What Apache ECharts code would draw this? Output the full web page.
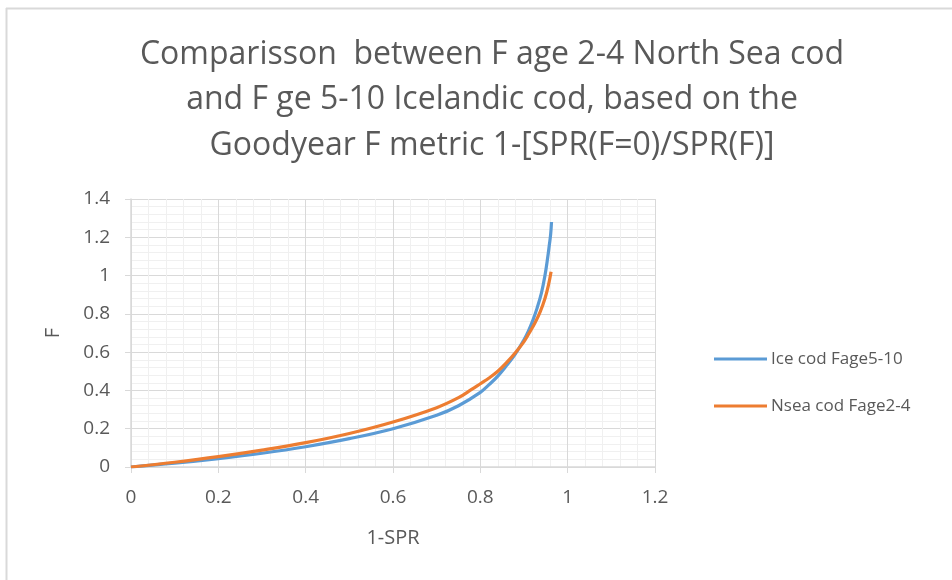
<!DOCTYPE html>
<html>
<head>
<meta charset="utf-8">
<script src="https://cdn.jsdelivr.net/npm/echarts@6/dist/echarts.min.js"></script>
<style>
html,body{margin:0;padding:0;background:#fff;}
#chart{width:952px;height:580px;}
</style>
</head>
<body>
<div id="chart"></div>
<script>
// Data
const titleLines = [
  'Comparisson  between F age 2-4 North Sea cod',
  'and F ge 5-10 Icelandic cod, based on the',
  'Goodyear F metric 1-[SPR(F=0)/SPR(F)]'
];
const xAxisName = '1-SPR';
const yAxisName = 'F';
const seriesNames = ['Ice cod Fage5-10', 'Nsea cod Fage2-4'];

// Ice cod Fage5-10 : [1-SPR, F]
const iceX = [0, 0.1, 0.2, 0.3, 0.4, 0.5, 0.6, 0.7, 0.75, 0.8, 0.82, 0.84, 0.86, 0.88, 0.9, 0.91, 0.92, 0.93, 0.94, 0.948, 0.954, 0.958, 0.961, 0.963];
const iceF = [0, 0.02, 0.044, 0.072, 0.106, 0.148, 0.2, 0.27, 0.32, 0.39, 0.43, 0.475, 0.53, 0.59, 0.665, 0.71, 0.765, 0.83, 0.91, 1.0, 1.09, 1.16, 1.215, 1.28];

// Nsea cod Fage2-4 : [1-SPR, F]
const nseaX = [0, 0.1, 0.2, 0.3, 0.4, 0.5, 0.6, 0.7, 0.75, 0.78, 0.8, 0.82, 0.84, 0.86, 0.883, 0.9, 0.912, 0.925, 0.937, 0.948, 0.956, 0.962];
const nseaF = [0, 0.025, 0.054, 0.088, 0.127, 0.175, 0.235, 0.31, 0.362, 0.405, 0.435, 0.465, 0.5, 0.545, 0.605, 0.655, 0.7, 0.752, 0.81, 0.88, 0.95, 1.02];

const zip = (a, b) => a.map((v, i) => [v, b[i]]);

const chart = echarts.init(document.getElementById('chart'), null, {renderer: 'canvas'});
const font = '"Open Sans", "Noto Sans", sans-serif';
const txt = '#595959';

chart.setOption({
  backgroundColor: '#ffffff',
  animation: false,
  title: {
    text: titleLines.join('\n'),
    left: 487,
    top: 27,
    textAlign: 'center',
    textStyle: {
      fontFamily: font,
      fontSize: 32,
      fontWeight: 'normal',
      color: txt,
      lineHeight: 45.5
    }
  },
  legend: {
    orient: 'vertical',
    left: 709,
    top: 344,
    itemWidth: 53,
    itemHeight: 3,
    itemGap: 27,
    data: seriesNames.map(n => ({name: n, icon: 'rect'})),
    textStyle: {fontFamily: font, fontSize: 17, color: txt, lineHeight: 20, padding: [0, 0, 0, -1]}
  },
  grid: {left: 131, right: 297, top: 199, bottom: 113, containLabel: false},
  xAxis: {
    type: 'value',
    min: 0, max: 1.2, interval: 0.2,
    name: xAxisName,
    nameLocation: 'middle',
    nameGap: 61,
    nameTextStyle: {fontFamily: font, fontSize: 20, color: txt},
    axisLine: {show: true, lineStyle: {color: '#d9d9d9', width: 1.5}},
    axisTick: {show: true, length: 6, lineStyle: {color: '#d9d9d9'}},
    axisLabel: {fontFamily: font, fontSize: 19, color: txt, margin: 21,
      formatter: v => String(Math.round(v * 10) / 10)},
    splitLine: {show: true, lineStyle: {color: '#d9d9d9', width: 1}},
    minorTick: {show: false, splitNumber: 5},
    minorSplitLine: {show: true, lineStyle: {color: '#f0f0f0', width: 1}}
  },
  yAxis: {
    type: 'value',
    min: 0, max: 1.4, interval: 0.2,
    name: yAxisName,
    nameLocation: 'middle',
    nameGap: 68,
    nameRotate: 90,
    nameTextStyle: {fontFamily: font, fontSize: 20, color: txt},
    axisLine: {show: true, lineStyle: {color: '#d9d9d9', width: 1.5}},
    axisTick: {show: true, length: 6, lineStyle: {color: '#d9d9d9'}},
    axisLabel: {fontFamily: font, fontSize: 19, color: txt, margin: 21,
      formatter: v => String(Math.round(v * 10) / 10)},
    splitLine: {show: true, lineStyle: {color: '#d9d9d9', width: 1}},
    minorTick: {show: false, splitNumber: 5},
    minorSplitLine: {show: true, lineStyle: {color: '#f0f0f0', width: 1}}
  },
  series: [
    {
      name: seriesNames[0],
      type: 'line',
      data: zip(iceX, iceF),
      smooth: 0.4,
      showSymbol: false,
      lineStyle: {color: '#5B9BD5', width: 3.2},
      itemStyle: {color: '#5B9BD5'},
      z: 2
    },
    {
      name: seriesNames[1],
      type: 'line',
      data: zip(nseaX, nseaF),
      smooth: 0.4,
      showSymbol: false,
      lineStyle: {color: '#ED7D31', width: 3.2},
      itemStyle: {color: '#ED7D31'},
      z: 3
    }
  ],
  graphic: [
    {type: 'line', shape: {x1: 6, y1: 8.5, x2: 952, y2: 8.5}, style: {stroke: '#d9d9d9', lineWidth: 2}, silent: true},
    {type: 'line', shape: {x1: 6.5, y1: 8, x2: 6.5, y2: 580}, style: {stroke: '#d9d9d9', lineWidth: 2}, silent: true}
  ]
});
</script>
</body>
</html>
